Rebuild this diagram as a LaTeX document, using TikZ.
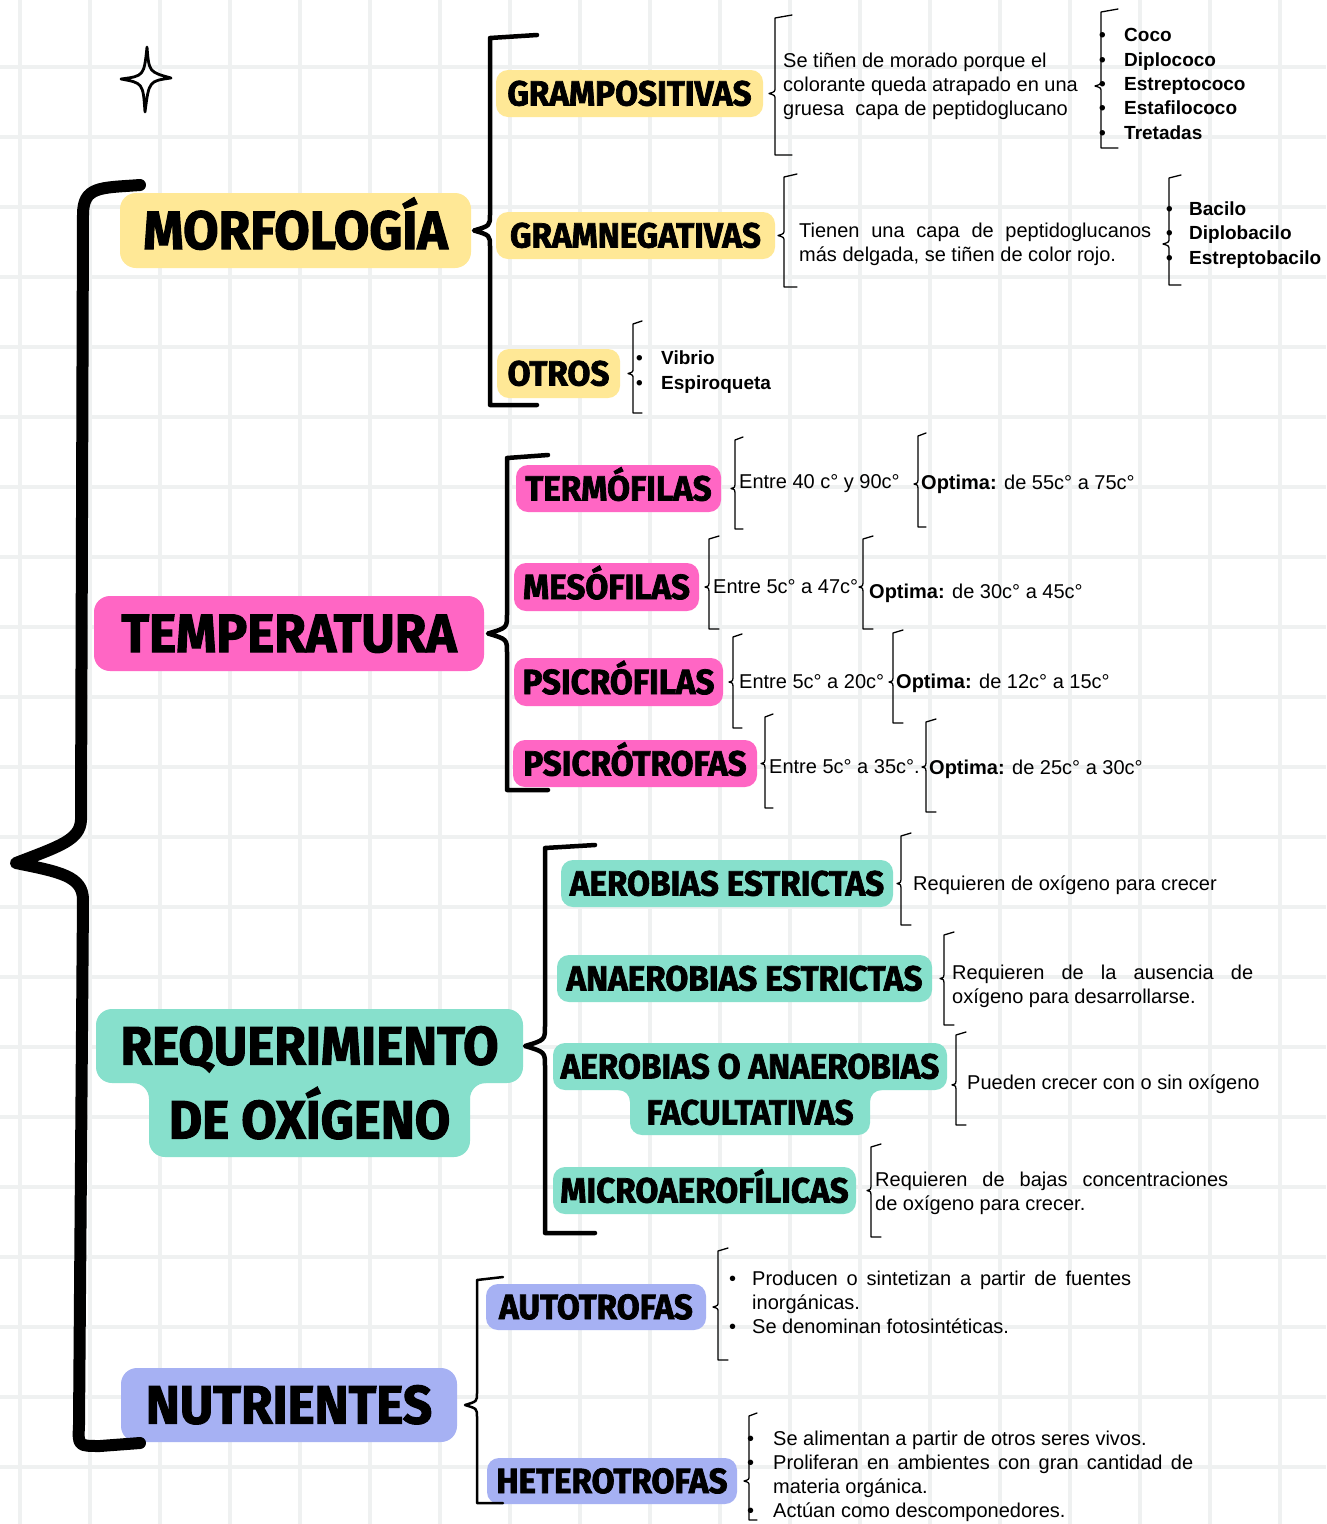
\documentclass[tikz,border=0pt]{standalone}
\usepackage{fontspec}
\setmainfont{Liberation Sans}
\newfontfamily\titlefont{Fira Sans}[FakeStretch=0.95,BoldFeatures={FakeBold=2}]
\usetikzlibrary{calc}

\definecolor{gridgray}{HTML}{EFF1F1}
\definecolor{morfyellow}{HTML}{FFE896}
\definecolor{temppink}{HTML}{FF66C4}
\definecolor{oxiteal}{HTML}{87E0CC}
\definecolor{nutlilac}{HTML}{A6B1F3}

% bullet in a box of given width
\newcommand{\itemdot}[1]{\makebox[#1][l]{•}}
% brace: style, node for the tip, spine x, top y, bottom y, hook, tip depth
\newcommand{\sidebrace}[7]{%
  \coordinate (bx) at (#3,0);
  \draw[#1] ($(#3,#4)+(#6,-3)$) -- (#3,#4)
    -- ($(#2 -| bx)+(0,-#7)$)
    .. controls ($(#2 -| bx)+(0,-0.3*#7)$) .. ($(#2 -| bx)+(-#7,0)$)
    .. controls ($(#2 -| bx)+(0,0.3*#7)$) .. ($(#2 -| bx)+(0,#7)$)
    -- (#3,#5) -- ($(#3,#5)+(#6,0)$);
}

\begin{document}
\begin{tikzpicture}[x=1pt, y=-1pt,
  gridline/.style={draw=gridgray, line width=4pt},
  topic/.style={rounded corners=16pt, inner sep=0pt, minimum height=75pt,
    text height=37pt, text depth=0pt, font=\titlefont\bfseries\fontsize{54}{54}\selectfont},
  subtopic/.style={rounded corners=12pt, inner sep=0pt, minimum height=47pt,
    text height=24pt, text depth=0pt, font=\titlefont\bfseries\fontsize{35}{35}\selectfont},
  note/.style={anchor=west, inner sep=0pt, align=left, font=\fontsize{20}{24}\selectfont},
  notelist/.style={note, font=\bfseries\fontsize{19}{24.3}\selectfont},
  bracethin/.style={line width=1.3pt, line join=round, line cap=round},
  bracemid/.style={line width=4.5pt, line join=round, line cap=round},
]
    \useasboundingbox (0,0) rectangle (1326,1524);
    \fill[white] (0,0) rectangle (1326,1524);

    % Grid paper
    \foreach \gx in {20,90,...,1320} \draw[gridline] (\gx,0) -- (\gx,1524);
    \foreach \gy in {67,137,...,1524} \draw[gridline] (0,\gy) -- (1326,\gy);

    % Star
    \draw[line width=2.8pt, line join=round] (147,47) .. controls (149,72) .. (171,78)
      .. controls (149,81) .. (145,112) .. controls (143,83) .. (121,79)
      .. controls (144,76) .. (147,47) -- cycle;

    % Joints of the two-line boxes
    \fill[oxiteal] (149,1070) rectangle (470,1100);
    \fill[oxiteal] (133,1083) -- (149,1083) -- (149,1099) .. controls (149,1090) and (142,1083) .. (133,1083) -- cycle;
    \fill[oxiteal] (486,1083) -- (470,1083) -- (470,1099) .. controls (470,1090) and (477,1083) .. (486,1083) -- cycle;
    \fill[oxiteal] (630,1078) rectangle (870,1104);
    \fill[oxiteal] (618,1090) -- (630,1090) -- (630,1102) .. controls (630,1095) and (625,1090) .. (618,1090) -- cycle;
    \fill[oxiteal] (882,1090) -- (870,1090) -- (870,1102) .. controls (870,1095) and (875,1090) .. (882,1090) -- cycle;

    % Morfologia
    \node[topic, fill=morfyellow, minimum width=351pt] (morf) at (295.5,230.5) {MORFOLOGÍA};
    \node[subtopic, fill=morfyellow, minimum width=267pt] (gp) at (629.5,93.5) {GRAMPOSITIVAS};
    \node[subtopic, fill=morfyellow, minimum width=279pt] (gn) at (635.5,235.5) {GRAMNEGATIVAS};
    \node[subtopic, fill=morfyellow, minimum width=123pt, minimum height=49pt] (ot) at (558.5,373.5) {OTROS};

    % Temperatura
    \node[topic, fill=temppink, minimum width=390pt] (temp) at (289,633.5) {TEMPERATURA};
    \node[subtopic, fill=temppink, minimum width=205pt] (te) at (618.5,488.5) {TERMÓFILAS};
    \node[subtopic, fill=temppink, minimum width=185pt, minimum height=48pt] (me) at (606.5,587) {MESÓFILAS};
    \node[subtopic, fill=temppink, minimum width=209pt, minimum height=48pt] (ps) at (618.5,682) {PSICRÓFILAS};
    \node[subtopic, fill=temppink, minimum width=244pt] (pt) at (635,763.5) {PSICRÓTROFAS};

    % Requerimiento de oxigeno
    \node[topic, fill=oxiteal, minimum width=427pt, minimum height=74pt] (req) at (309.5,1046) {REQUERIMIENTO};
    \node[topic, fill=oxiteal, minimum width=321pt, minimum height=74pt] (oxi) at (309.5,1120) {DE OXÍGENO};
    \node[subtopic, fill=oxiteal, minimum width=332pt] (ae) at (727,883.5) {AEROBIAS ESTRICTAS};
    \node[subtopic, fill=oxiteal, minimum width=375pt] (an) at (744.5,978.5) {ANAEROBIAS ESTRICTAS};
    \node[subtopic, fill=oxiteal, minimum width=394pt] (aoa) at (750,1066.5) {AEROBIAS O ANAEROBIAS};
    \node[subtopic, fill=oxiteal, minimum width=240pt, minimum height=45pt] (fac) at (750,1112.5) {FACULTATIVAS};
    \node[subtopic, fill=oxiteal, minimum width=303pt] (mi) at (704.5,1190.5) {MICROAEROFÍLICAS};
    \coordinate (aoa-fac) at ($(aoa)!0.4!(fac)$);

    % Nutrientes
    \node[topic, fill=nutlilac, minimum width=336pt, minimum height=74pt] (nut) at (289,1405) {NUTRIENTES};
    \node[subtopic, fill=nutlilac, minimum width=220pt, minimum height=46pt] (au) at (596,1307) {AUTOTROFAS};
    \node[subtopic, fill=nutlilac, minimum width=250pt, minimum height=46pt] (he) at (612,1481) {HETEROTROFAS};

    % Notes
    \node[note] (gpt) at (783,86) {Se tiñen de morado porque el\\colorante queda atrapado en una\\gruesa\ \ capa de peptidoglucano};
    \node[notelist] (gpl) at (1099,84) {\itemdot{25pt}Coco\\\itemdot{25pt}Diplococo\\\itemdot{25pt}Estreptococo\\\itemdot{25pt}Estafilococo\\\itemdot{25pt}Tretadas};
    \node[note] (gnt) at (799,244) {\makebox[352pt][s]{Tienen una capa de peptidoglucanos}\\más delgada, se tiñen de color rojo.};
    \node[notelist] (gnl) at (1166,235) {\itemdot{23pt}Bacilo\\\itemdot{23pt}Diplobacilo\\\itemdot{23pt}Estreptobacilo};
    \node[notelist, font=\bfseries\fontsize{19}{25}\selectfont] (otl) at (636,372) {\itemdot{25pt}Vibrio\\\itemdot{25pt}Espiroqueta};

    \node[note] (ter1) at (739,484) {Entre 40 c° y 90c°};
    \node[note] (ter2) at (921,484) {\textbf{Optima:} de 55c° a 75c°};
    \node[note] (mes1) at (713,587) {Entre 5c° a 47c°};
    \node[note] (mes2) at (869,593) {\textbf{Optima:} de 30c° a 45c°};
    \node[note] (psi1) at (739,682) {Entre 5c° a 20c°};
    \node[note] (psi2) at (896,683) {\textbf{Optima:} de 12c° a 15c°};
    \node[note] (pst1) at (769,767) {Entre 5c° a 35c°.};
    \node[note] (pst2) at (929,769) {\textbf{Optima:} de 25c° a 30c°};

    \node[note] (aet) at (913,885) {Requieren de oxígeno para crecer};
    \node[note] (ant) at (952,986) {\makebox[301pt][s]{Requieren de la ausencia de}\\oxígeno para desarrollarse.};
    \node[note] (aoat) at (967,1084) {Pueden crecer con o sin oxígeno};
    \node[note] (mit) at (875,1193) {\makebox[353pt][s]{Requieren de bajas concentraciones}\\de oxígeno para crecer.};

    \node[note] (aut) at (729,1302) {\itemdot{23pt}\makebox[379pt][s]{Producen o sintetizan a partir de fuentes}\\\hspace*{23pt}inorgánicas.\\\itemdot{23pt}Se denominan fotosintéticas.};
    \node[note] (het) at (747,1476) {\itemdot{26pt}Se alimentan a partir de otros seres vivos.\\\itemdot{26pt}\makebox[420pt][s]{Proliferan en ambientes con gran cantidad de}\\\hspace*{26pt}materia orgánica.\\\itemdot{26pt}Actúan como descomponedores.};

    % Main brace
    \draw[line width=12pt, line cap=round, line join=round] (140,185) .. controls (100,188) and (83,186) .. (83,215)
      -- (81,820) .. controls (80,840) and (60,846) .. (16,863)
      .. controls (60,872) and (83,876) .. (83,900)
      -- (79,1425) .. controls (78,1446) .. (100,1446) -- (140,1443);

    % Braces of the four topics
    \sidebrace{bracemid}{morf}{490}{38}{405}{47}{16}
    \sidebrace{bracemid}{temp}{507}{458}{790}{41}{19}
    \sidebrace{bracemid}{req}{545}{848}{1233}{50}{20}
    \sidebrace{bracemid, line width=2.5pt}{nut}{477}{1280}{1503}{26}{12}

    % Braces of the notes
    \sidebrace{bracethin}{gp}{775}{18}{155}{17}{6}
    \sidebrace{bracethin}{gpt}{1101}{12}{148}{17}{6}
    \sidebrace{bracethin}{gn}{784}{177}{287}{13}{6}
    \sidebrace{bracethin}{gnt}{1169}{178}{285}{12}{6}
    \sidebrace{bracethin}{ot}{633}{324}{413}{9}{5}
    \sidebrace{bracethin}{te}{735}{440}{529}{8}{4}
    \sidebrace{bracethin}{ter1}{918}{436}{527}{8}{4}
    \sidebrace{bracethin}{me}{709}{539}{629}{10}{4}
    \sidebrace{bracethin}{mes1}{863}{539}{629}{10}{4}
    \sidebrace{bracethin}{ps}{733}{637}{728}{9}{4}
    \sidebrace{bracethin}{psi1}{893}{633}{723}{10}{4}
    \sidebrace{bracethin}{pt}{765}{717}{808}{8}{4}
    \sidebrace{bracethin}{pst1}{926}{722}{812}{10}{4}
    \sidebrace{bracethin}{ae}{901}{836}{925}{10}{4}
    \sidebrace{bracethin}{an}{944}{935}{1025}{10}{4}
    \sidebrace{bracethin}{aoa-fac}{956}{1035}{1125}{10}{4}
    \sidebrace{bracethin}{mi}{871}{1147}{1237}{10}{4}
    \sidebrace{bracethin}{au}{718}{1251}{1360}{10}{5}
    \sidebrace{bracethin}{he}{749}{1416}{1520}{8}{5}
\end{tikzpicture}
\end{document}
